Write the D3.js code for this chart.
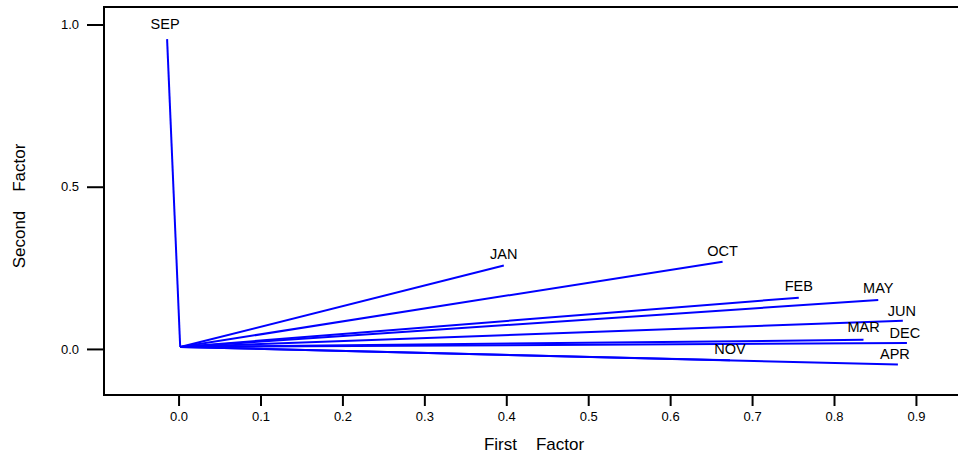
<!DOCTYPE html>
<html>
<head>
<meta charset="utf-8">
<script src="https://cdn.jsdelivr.net/npm/d3@7"></script>
<style>
  html, body { margin: 0; padding: 0; background: #fff; }
  svg { display: block; font-family: "Liberation Sans", Arial, sans-serif; }
</style>
</head>
<body>
<svg width="958" height="458"></svg>
<script>
// factor loadings per month (first factor, second factor)
var months = ['JAN', 'FEB', 'MAR', 'APR', 'MAY', 'JUN', 'SEP', 'OCT', 'NOV', 'DEC'];
var firstFactor = [0.397, 0.757, 0.836, 0.878, 0.854, 0.884, -0.014, 0.664, 0.673, 0.889];
var secondFactor = [0.257, 0.158, 0.028, -0.048, 0.151, 0.087, 0.955, 0.269, -0.035, 0.018];
var origin = [0.002, 0.006];

var xTicks = [0, 0.1, 0.2, 0.3, 0.4, 0.5, 0.6, 0.7, 0.8, 0.9];
var yTicks = [0, 0.5, 1.0];

var LEFT = 104, RIGHT = 961, TOP = 7, BOTTOM = 395;
var LINE_COLOR = '#0000ff';

var svg = d3.select('svg');

var x = d3.scaleLinear().domain([-0.091, 0.955]).range([LEFT, RIGHT]);
var y = d3.scaleLinear().domain([-0.142, 1.054]).range([BOTTOM, TOP]);

var fmt = d3.format('.1f');

// x axis
var gx = svg.append('g')
  .attr('transform', 'translate(0,' + BOTTOM + ')')
  .call(d3.axisBottom(x).tickValues(xTicks).tickSize(11).tickPadding(6).tickFormat(fmt));
gx.select('.domain').remove();
gx.selectAll('line').attr('stroke', '#000').attr('stroke-width', 2);
gx.selectAll('text').attr('font-size', 13).attr('fill', '#000')
  .attr('font-family', '"Liberation Sans", Arial, sans-serif');

// y axis
var gy = svg.append('g')
  .attr('transform', 'translate(' + LEFT + ',0)')
  .call(d3.axisLeft(y).tickValues(yTicks).tickSize(17).tickPadding(8).tickFormat(fmt));
gy.select('.domain').remove();
gy.selectAll('line').attr('stroke', '#000').attr('stroke-width', 2);
gy.selectAll('text').attr('font-size', 13).attr('fill', '#000')
  .attr('font-family', '"Liberation Sans", Arial, sans-serif');

// frame (right edge falls just outside the picture)
svg.append('path')
  .attr('d', 'M' + RIGHT + ',' + TOP + 'H' + LEFT + 'V' + BOTTOM + 'H' + RIGHT)
  .attr('fill', 'none')
  .attr('stroke', '#000')
  .attr('stroke-width', 2);

// vectors
var data = months.map(function (m, i) {
  return { name: m, fx: firstFactor[i], fy: secondFactor[i] };
});

svg.append('g').selectAll('line')
  .data(data)
  .enter().append('line')
  .attr('x1', x(origin[0]))
  .attr('y1', y(origin[1]))
  .attr('x2', function (d) { return x(d.fx); })
  .attr('y2', function (d) { return y(d.fy); })
  .attr('stroke', LINE_COLOR)
  .attr('stroke-width', 2);

// labels sit centred just above each vector end
var labelShift = { SEP: -10, JAN: -7, OCT: -6, FEB: -7, MAY: -7, JUN: -5, MAR: -8, DEC: -5, APR: -6, NOV: -6 };
var labelDx = { SEP: -2, APR: -3, JUN: -1, DEC: -2 };

svg.append('g').selectAll('text')
  .data(data)
  .enter().append('text')
  .attr('x', function (d) { return x(d.fx) + (labelDx[d.name] || 0); })
  .attr('y', function (d) { return y(d.fy) + labelShift[d.name]; })
  .attr('text-anchor', 'middle')
  .attr('font-size', 14.5)
  .attr('fill', '#000')
  .text(function (d) { return d.name; });

// axis titles
svg.append('text')
  .attr('x', 534)
  .attr('y', 450)
  .attr('text-anchor', 'middle')
  .attr('font-size', 17)
  .attr('fill', '#000')
  .style('white-space', 'pre')
  .text('First    Factor');

svg.append('text')
  .attr('transform', 'translate(25,206) rotate(-90)')
  .attr('text-anchor', 'middle')
  .attr('font-size', 17)
  .attr('fill', '#000')
  .style('white-space', 'pre')
  .text('Second    Factor');
</script>
</body>
</html>
